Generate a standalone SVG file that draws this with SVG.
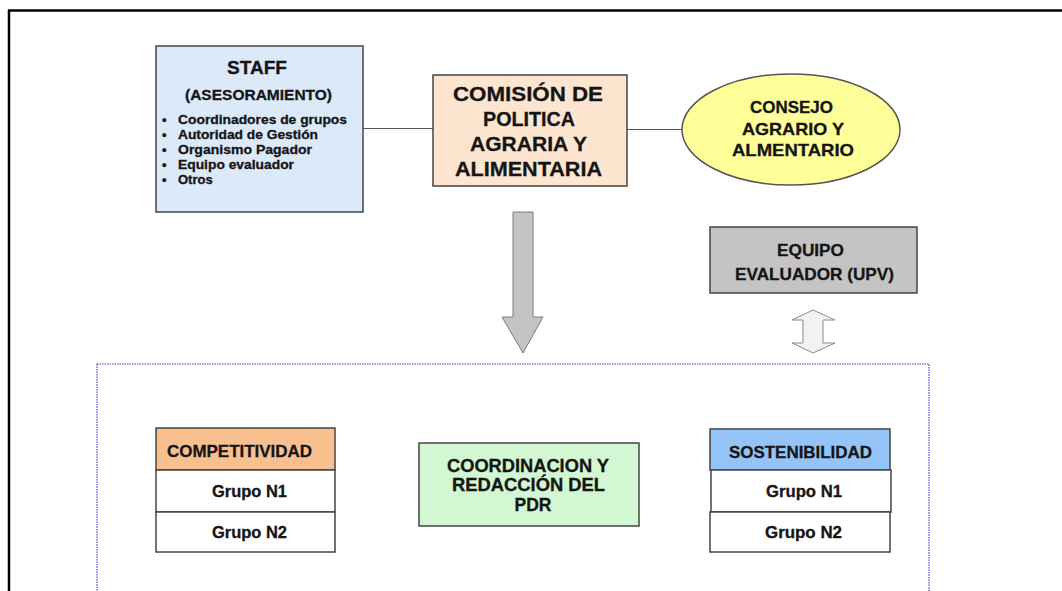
<svg xmlns="http://www.w3.org/2000/svg" width="1062" height="591" viewBox="0 0 1062 591">
<style>
text{font-family:"Liberation Sans",Arial,sans-serif;font-weight:bold;fill:#151515;stroke:#151515;stroke-width:0.3;}
.c{text-anchor:middle;}
.box{stroke:#444;stroke-width:1.5;}
.conn{stroke:#555;stroke-width:1;fill:none;}
</style>
<rect width="1062" height="591" fill="#fff"/>
<g id="frame">
<line x1="8" y1="10.5" x2="1062" y2="10.5" stroke="#000" stroke-width="2.5"/>
<line x1="9" y1="10" x2="9" y2="591" stroke="#000" stroke-width="2.5"/>
</g>
<g id="connectors">
<line class="conn" x1="363" y1="128.5" x2="433" y2="128.5"/>
<line class="conn" x1="627" y1="129.5" x2="682" y2="129.5"/>
<path d="M513,212 H533 V317 H543 L523,353 L502,317 H513 Z" fill="#c4c4c4" stroke="#7a7a7a" stroke-width="1"/>
<path d="M813,310 L835,320 H823 V343 H835 L813,353 L792,343 H803 V320 H792 Z" fill="#f2f2f2" stroke="#8a8a8a" stroke-width="1"/>
</g>
<g id="staff">
<rect class="box" x="156" y="46" width="207" height="166" fill="#dbe9f9"/>
<text x="227" y="74" font-size="18" textLength="60" lengthAdjust="spacingAndGlyphs">STAFF</text>
<text x="185" y="100" font-size="14.5" textLength="147" lengthAdjust="spacingAndGlyphs">(ASESORAMIENTO)</text>
<g font-size="13">
<text x="162" y="124">•</text>
<text x="162" y="139">•</text>
<text x="162" y="154">•</text>
<text x="162" y="169">•</text>
<text x="162" y="184">•</text>
<text x="178" y="124" textLength="169" lengthAdjust="spacingAndGlyphs">Coordinadores de grupos</text>
<text x="178" y="139" textLength="140" lengthAdjust="spacingAndGlyphs">Autoridad de Gestión</text>
<text x="178" y="154" textLength="134" lengthAdjust="spacingAndGlyphs">Organismo Pagador</text>
<text x="178" y="169" textLength="116" lengthAdjust="spacingAndGlyphs">Equipo evaluador</text>
<text x="178" y="184">Otros</text>
</g>
</g>
<g id="comision">
<rect class="box" x="433" y="75" width="194" height="111" fill="#fde5d0"/>
<g font-size="21">
<text x="453" y="101" textLength="150" lengthAdjust="spacingAndGlyphs">COMISIÓN DE</text>
<text x="483" y="126" textLength="92" lengthAdjust="spacingAndGlyphs">POLITICA</text>
<text x="470" y="151" textLength="117" lengthAdjust="spacingAndGlyphs">AGRARIA Y</text>
<text x="455" y="176" textLength="147" lengthAdjust="spacingAndGlyphs">ALIMENTARIA</text>
</g>
</g>
<g id="consejo">
<ellipse cx="791" cy="129.5" rx="109" ry="55.5" fill="#ffff99" stroke="#555" stroke-width="1.5"/>
<g font-size="17">
<text x="750" y="113" textLength="83" lengthAdjust="spacingAndGlyphs">CONSEJO</text>
<text x="742" y="135" textLength="102" lengthAdjust="spacingAndGlyphs">AGRARIO Y</text>
<text x="732" y="156" textLength="122" lengthAdjust="spacingAndGlyphs">ALMENTARIO</text>
</g>
</g>
<g id="equipo">
<rect class="box" x="710" y="227" width="207" height="66" fill="#c4c4c4"/>
<text x="777" y="256" font-size="17" textLength="67" lengthAdjust="spacingAndGlyphs">EQUIPO</text>
<text x="735" y="280" font-size="17" textLength="159" lengthAdjust="spacingAndGlyphs">EVALUADOR (UPV)</text>
</g>
<g id="grupo-area">
<rect x="97" y="364" width="832" height="240" fill="none" stroke="#4a4ad0" stroke-width="1.2" stroke-dasharray="1.5,1"/>
</g>
<g id="competitividad">
<rect class="box" x="156" y="428" width="179" height="42" fill="#f9c08f"/>
<rect class="box" x="156" y="470" width="179" height="42" fill="#fff"/>
<rect class="box" x="156" y="512" width="179" height="40" fill="#fff"/>
<g font-size="16.5">
<text x="167" y="457" textLength="145" lengthAdjust="spacingAndGlyphs">COMPETITIVIDAD</text>
<text x="212" y="497" textLength="75" lengthAdjust="spacingAndGlyphs">Grupo N1</text>
<text x="212" y="538" textLength="75" lengthAdjust="spacingAndGlyphs">Grupo N2</text>
</g>
</g>
<g id="coordinacion">
<rect class="box" x="419" y="443" width="220" height="83" fill="#d2f7d2"/>
<g font-size="17.5">
<text x="447" y="472" textLength="162" lengthAdjust="spacingAndGlyphs">COORDINACION Y</text>
<text x="452" y="491" textLength="153" lengthAdjust="spacingAndGlyphs">REDACCIÓN DEL</text>
<text class="c" x="533" y="511">PDR</text>
</g>
</g>
<g id="sostenibilidad">
<rect class="box" x="710" y="429" width="180" height="41" fill="#94c3f5"/>
<rect class="box" x="711" y="470" width="180" height="42" fill="#fff"/>
<rect class="box" x="710" y="512" width="180" height="40" fill="#fff"/>
<g font-size="16.5">
<text x="729" y="458" textLength="143" lengthAdjust="spacingAndGlyphs">SOSTENIBILIDAD</text>
<text x="766" y="497" textLength="76" lengthAdjust="spacingAndGlyphs">Grupo N1</text>
<text x="765" y="538" textLength="77" lengthAdjust="spacingAndGlyphs">Grupo N2</text>
</g>
</g>
</svg>
